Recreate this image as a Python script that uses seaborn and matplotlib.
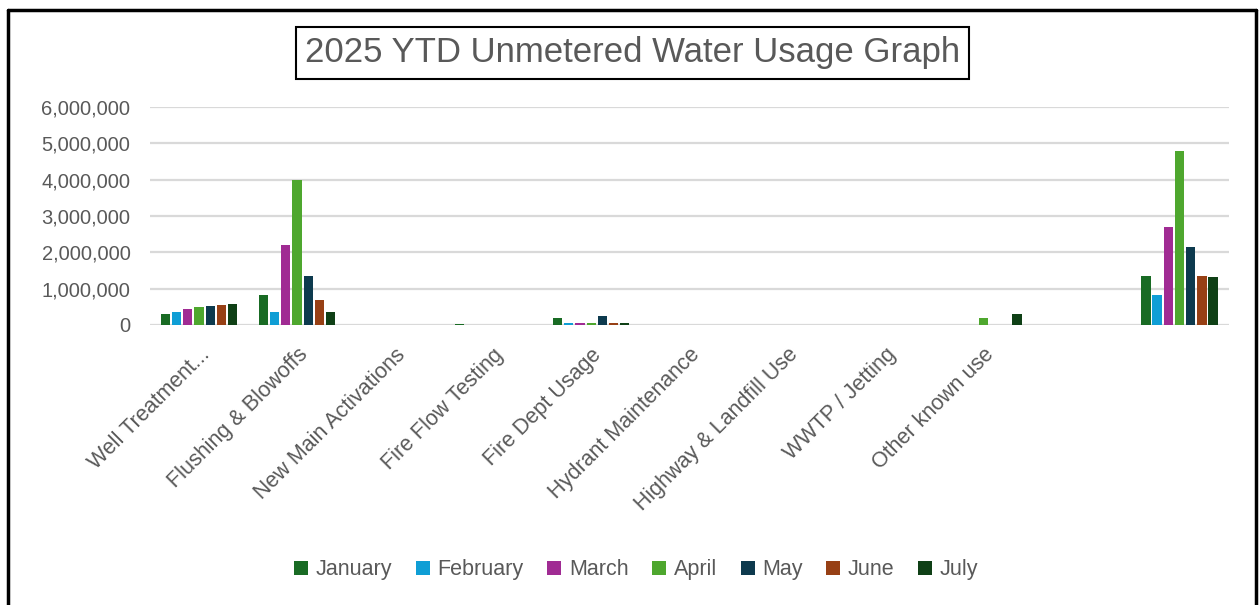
import matplotlib

matplotlib.use("Agg")

import matplotlib.pyplot as plt
import pandas as pd
import seaborn as sns

# categories along the x axis (last two have no label in the source chart)
categories = [
    "Well Treatment...",
    "Flushing & Blowoffs",
    "New Main Activations",
    "Fire Flow Testing",
    "Fire Dept Usage",
    "Hydrant Maintenance",
    "Highway & Landfill Use",
    "WWTP / Jetting",
    "Other known use",
    "",
    " ",
]
months = ["January", "February", "March", "April", "May", "June", "July"]

january = [305000, 810000, 0, 20000, 190000, 0, 0, 0, 0, 0, 1350000]
february = [360000, 360000, 0, 0, 55000, 0, 0, 0, 0, 0, 810000]
march = [440000, 2190000, 0, 0, 46000, 0, 0, 0, 0, 0, 2690000]
april = [500000, 3990000, 0, 0, 55000, 0, 0, 0, 200000, 0, 4790000]
may = [530000, 1360000, 0, 0, 255000, 0, 0, 0, 0, 0, 2140000]
june = [560000, 680000, 0, 5000, 55000, 0, 0, 0, 0, 0, 1350000]
july = [580000, 350000, 0, 0, 55000, 0, 0, 0, 300000, 0, 1310000]

colors = ["#196B24", "#0F9ED5", "#A02B93", "#4EA72E", "#0D3A4E", "#974015", "#0F4016"]

series = [january, february, march, april, may, june, july]
rows = []
for month, vals in zip(months, series):
    for cat, v in zip(categories, vals):
        rows.append({"category": cat, "month": month, "usage": v})
df = pd.DataFrame(rows)

sns.set_style("white")
plt.rcParams["font.family"] = ["Liberation Sans", "DejaVu Sans"]
text_color = "#595959"

fig = plt.figure(figsize=(12.6, 6.05), dpi=100)
ax = fig.add_axes([0.119, 0.463, 0.856, 0.36])

sns.barplot(
    data=df,
    x="category",
    y="usage",
    hue="month",
    order=categories,
    hue_order=months,
    palette=colors,
    saturation=1,
    width=0.8,
    gap=0.17,
    linewidth=0,
    ax=ax,
    legend=True,
)

ax.set_ylim(0, 6000000)
ax.set_yticks(range(0, 6000001, 1000000))
ax.yaxis.set_major_formatter(matplotlib.ticker.FuncFormatter(lambda v, p: f"{int(v):,}"))
ax.grid(axis="y", color="#d9d9d9", linewidth=1.6)
ax.set_axisbelow(True)
for s in ax.spines.values():
    s.set_visible(False)
ax.set_xlabel("")
ax.set_ylabel("")
ax.tick_params(axis="y", length=0, labelsize=14.5, colors=text_color, pad=14)
ax.tick_params(axis="x", length=0, labelsize=15.5, colors=text_color, pad=14)
ax.set_xticks(range(len(categories)))
ax.set_xticklabels(categories, rotation=45, ha="right", rotation_mode="anchor")

handles, labels = ax.get_legend_handles_labels()
ax.get_legend().remove()
fig.legend(
    handles,
    labels,
    loc="center",
    bbox_to_anchor=(0.505, 0.058),
    ncol=7,
    frameon=False,
    fontsize=15.5,
    handlelength=0.65,
    handleheight=0.65,
    handletextpad=0.35,
    columnspacing=1.1,
    labelcolor=text_color,
)

fig.text(
    0.502,
    0.913,
    "2025 YTD Unmetered Water Usage Graph",
    ha="center",
    va="center",
    fontsize=25,
    color=text_color,
    bbox=dict(boxstyle="square,pad=0.27", facecolor="white", edgecolor="black", linewidth=1.5),
)

# outer frame (left, top, right)
fig.add_artist(plt.Line2D([0.0065, 0.0065], [0, 0.984], color="black", linewidth=2.5, transform=fig.transFigure))
fig.add_artist(plt.Line2D([0.0065, 0.997], [0.984, 0.984], color="black", linewidth=2.5, transform=fig.transFigure))
fig.add_artist(plt.Line2D([0.997, 0.997], [0, 0.984], color="black", linewidth=2.5, transform=fig.transFigure))

fig.savefig("out.png", dpi=100)
